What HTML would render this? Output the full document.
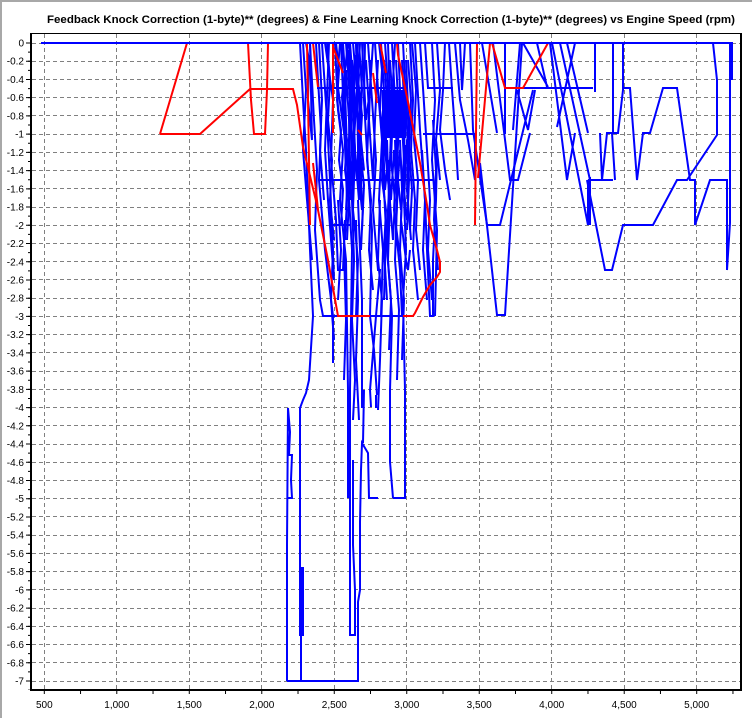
<!DOCTYPE html>
<html>
<head>
<meta charset="utf-8">
<style>
html,body{margin:0;padding:0;background:#fff;}
svg{display:block;}
text{font-family:"Liberation Sans",Arial,sans-serif;}
</style>
</head>
<body>
<svg width="752" height="718" viewBox="0 0 752 718" xmlns="http://www.w3.org/2000/svg">
<rect x="0" y="0" width="752" height="718" fill="#fff"/>
<rect x="0" y="0" width="752" height="2" fill="#a8a8a8"/>
<rect x="0" y="0" width="2" height="718" fill="#a8a8a8"/>

<text x="47" y="23" font-size="11" font-weight="bold" fill="#000" textLength="688" lengthAdjust="spacingAndGlyphs">Feedback Knock Correction (1-byte)** (degrees) &amp; Fine Learning Knock Correction (1-byte)** (degrees) vs Engine Speed (rpm)</text>

<g stroke="#808080" stroke-width="1" stroke-dasharray="4 3" fill="none">
<path d="M32,61.5H741M32,79.5H741M32,97.5H741M32,115.5H741M32,134.5H741M32,152.5H741M32,170.5H741M32,188.5H741M32,207.5H741M32,225.5H741M32,243.5H741M32,261.5H741M32,279.5H741M32,298.5H741M32,316.5H741M32,334.5H741M32,352.5H741M32,371.5H741M32,389.5H741M32,407.5H741M32,425.5H741M32,444.5H741M32,462.5H741M32,480.5H741M32,498.5H741M32,516.5H741M32,535.5H741M32,553.5H741M32,571.5H741M32,589.5H741M32,608.5H741M32,626.5H741M32,644.5H741M32,662.5H741M32,681.5H741M32,43.5H741"/>
<path d="M44.5,34V689M116.5,34V689M189.5,34V689M261.5,34V689M334.5,34V689M406.5,34V689M479.5,34V689M551.5,34V689M624.5,34V689M696.5,34V689"/>
</g>

<rect x="30" y="33" width="712" height="1" fill="#000"/>
<rect x="740" y="33" width="2" height="658" fill="#000"/>
<rect x="30" y="33" width="2" height="658" fill="#000"/>
<rect x="30" y="689" width="712" height="2" fill="#000"/>
<line x1="28" y1="42.5" x2="28" y2="690" stroke="#000" stroke-width="4" stroke-dasharray="1 17.229"/>
<line x1="29" y1="42.5" x2="29" y2="690" stroke="#000" stroke-width="2" stroke-dasharray="1 8.1143"/>
<line x1="43.8" y1="692.5" x2="741" y2="692.5" stroke="#000" stroke-width="3" stroke-dasharray="1 35.245"/>

<g font-size="10" fill="#000" text-anchor="end">
<text x="24" y="46.5">0</text>
<text x="24" y="64.7">-0.2</text>
<text x="24" y="83">-0.4</text>
<text x="24" y="101.2">-0.6</text>
<text x="24" y="119.4">-0.8</text>
<text x="24" y="137.6">-1</text>
<text x="24" y="155.9">-1.2</text>
<text x="24" y="174.1">-1.4</text>
<text x="24" y="192.3">-1.6</text>
<text x="24" y="210.6">-1.8</text>
<text x="24" y="228.8">-2</text>
<text x="24" y="247">-2.2</text>
<text x="24" y="265.3">-2.4</text>
<text x="24" y="283.5">-2.6</text>
<text x="24" y="301.7">-2.8</text>
<text x="24" y="319.9">-3</text>
<text x="24" y="338.2">-3.2</text>
<text x="24" y="356.4">-3.4</text>
<text x="24" y="374.6">-3.6</text>
<text x="24" y="392.9">-3.8</text>
<text x="24" y="411.1">-4</text>
<text x="24" y="429.3">-4.2</text>
<text x="24" y="447.5">-4.4</text>
<text x="24" y="465.8">-4.6</text>
<text x="24" y="484">-4.8</text>
<text x="24" y="502.2">-5</text>
<text x="24" y="520.5">-5.2</text>
<text x="24" y="538.7">-5.4</text>
<text x="24" y="556.9">-5.6</text>
<text x="24" y="575.1">-5.8</text>
<text x="24" y="593.4">-6</text>
<text x="24" y="611.6">-6.2</text>
<text x="24" y="629.8">-6.4</text>
<text x="24" y="648.1">-6.6</text>
<text x="24" y="666.3">-6.8</text>
<text x="24" y="684.5">-7</text>
</g>
<g font-size="10" fill="#000" text-anchor="middle">
<text x="44.3" y="708">500</text>
<text x="116.8" y="708">1,000</text>
<text x="189.3" y="708">1,500</text>
<text x="261.8" y="708">2,000</text>
<text x="334.3" y="708">2,500</text>
<text x="406.8" y="708">3,000</text>
<text x="479.2" y="708">3,500</text>
<text x="551.7" y="708">4,000</text>
<text x="624.2" y="708">4,500</text>
<text x="696.7" y="708">5,000</text>
</g>

<g stroke="#0000ff" stroke-width="2" fill="none" stroke-linejoin="miter">
<rect x="382" y="90" width="24" height="48" fill="#0000ff" stroke="none"/>
<path d="M287,681V545L288,408L290,432L289,455L292,455L291,480L292,498L287,498"/>
<path d="M287,681H358V602L360,590V522L361,470L362,443L368,453L369,498H378"/>
<path d="M301,681V568H303V635H300V408L303,400L306,393L309,380L313,316L310,250L306,150L303,100L300,43"/>
<path d="M348,390V498M350,390V635H355V590L353,545V460M362,390V408M364,390L363,443M370,390L371,407M376,395V408M393,498H405V390M390,390V462L393,498"/>
<path d="M303,43L306,90L303,150L307,200L312,260"/>
<path d="M310,43L314,120L317,170L315,230L320,300L323,316H338"/>
<path d="M316,43L318,80L321,130L319,180L325,250L333,316V363"/>
<path d="M306,43L309,60L308,100L312,140L310,43"/>
<path d="M322,43L327,120L330,180L334,280L328,200L325,150L329,43"/>
<path d="M335,43L338,110L343,150L340,200L346,260L348,390"/>
<path d="M325,43L333,100L331,160L336,220L338,270L343,270L345,220"/>
<path d="M340,43L337,80L345,140L342,97L348,43"/>
<path d="M346,43L350,100L348,180L352,250L350,390"/>
<path d="M350,43L352,70L355,150L353,210L358,260L356,316"/>
<path d="M353,43L357,90L354,140L359,200L356,43"/>
<path d="M357,43L360,120L358,170L362,210L360,140L363,43"/>
<path d="M344,60L347,150L351,200L349,120L346,70"/>
<path d="M355,60L353,120L357,180L360,100"/>
<path d="M358,200L362,300L362,390"/>
<path d="M341,43L344,120L347,200L345,240"/>
<path d="M348,50L351,90L349,150L353,190L351,120L355,55"/>
<path d="M343,43L346,90L344,130L348,170L346,210"/>
<path d="M349,43L352,80L350,120L354,160L352,200"/>
<path d="M352,60L355,100L353,140L357,180"/>
<path d="M359,43L362,90L360,130L364,170"/>
<path d="M362,43L366,120L370,90L373,43"/>
<path d="M365,43L364,100L368,170L372,230L370,316L374,350L377,395"/>
<path d="M368,43L372,100L376,160L373,210L378,270L380,270L376,316L370,390"/>
<path d="M375,43L378,90L382,140L379,200L383,250L381,316"/>
<path d="M371,60L369,120L373,180L375,120L378,60"/>
<path d="M385,43L388,88L386,140L390,200L388,260L392,316L390,390"/>
<path d="M405,390L403,300L406,250L404,200L407,140"/>
<path d="M392,43L395,100L398,180L396,230L400,270L402,316"/>
<path d="M398,43L400,90L404,160L401,220L406,260L408,270L410,250"/>
<path d="M403,43L406,100L409,180L407,230"/>
<path d="M381,43L384,90L382,150L386,230L384,300"/>
<path d="M395,43L393,80L397,150L394,210L399,250"/>
<path d="M388,43L391,130L389,190L393,240"/>
<path d="M384,60L387,100L385,150L389,190L387,230"/>
<path d="M390,60L393,110L391,160L395,200L393,240"/>
<path d="M396,60L399,120L397,170L401,210"/>
<path d="M402,60L405,120L403,180L407,220"/>
<path d="M406,60L409,130L407,190L411,240"/>
<path d="M383,140L385,190L388,160L391,200L394,150L397,195L400,150L403,190L406,145"/>
<path d="M336,43L339,70L337,100L341,130L339,160L343,190L341,225"/>
<path d="M342,43L345,75L343,110L347,140L345,170L349,200L347,240"/>
<path d="M356,43L359,75L357,110L361,140L359,175L363,205L361,250"/>
<path d="M360,43L358,80L362,115L360,150L364,185L362,230"/>
<path d="M379,43L382,70L380,110L384,140L382,180L386,210L384,250L387,300"/>
<path d="M327,43L330,80L328,120L332,160L330,200L334,240"/>
<path d="M319,43L322,100L320,150L324,200"/>
<path d="M387,140L389,200L387,250L391,300L389,350"/>
<path d="M395,140L397,200L395,260L399,310L397,380"/>
<path d="M400,140L402,190L400,250L404,300L402,360"/>
<path d="M408,60L411,100L409,150L412,190L410,230"/>
<path d="M412,43L416,90L414,140L418,180L416,230L420,270"/>
<path d="M366,60L369,110L367,160L371,200L369,250L373,290"/>
<path d="M352,200L354,260L352,320L355,380L353,420"/>
<path d="M356,220L358,300L356,360L359,420"/>
<path d="M344,250L346,320L344,380"/>
<path d="M380,200L378,260L382,300L380,360L378,410"/>
<path d="M330,200L333,250L331,300L334,340"/>
<path d="M338,200L341,250L338,300"/>
<path d="M422,150L425,200L423,250L427,300"/>
<path d="M433,120L436,170L434,220L438,270"/>
<path d="M410,43L413,100L411,150L415,200L413,250L418,300"/>
<path d="M415,43L420,130L425,200L427,250L430,316H433V260L436,200L437,150"/>
<path d="M420,43L423,88L427,150L430,200L428,250L432,300"/>
<path d="M425,43L428,88H453"/>
<path d="M432,43L435,100L432,160L437,230L435,316"/>
<path d="M437,43L440,90L436,140L440,180"/>
<path d="M445,43L443,90L440,130L445,170L450,200"/>
<path d="M317,88H407M320,180H433M332,225H350M370,316H403M423,134H473"/>
<path d="M449,43L452,90L455,130L458,180"/>
<path d="M460,43L462,90L464,60L465,43"/>
<path d="M455,43L460,100L468,140L475,180"/>
<path d="M470,43L473,130L487,225H500L533,90"/>
<path d="M480,163L497,315H505L522,43"/>
<path d="M475,133V180M505,43V134"/>
<path d="M482,43L497,133M493,43L510,180H518L530,133M520,43L513,130M517,90L528,130L535,90M523,43L548,87M537,43L547,87"/>
<path d="M550,43L567,180L575,133M552,43L588,225M560,43L590,180M575,43L557,127M567,43L578,90L588,133"/>
<path d="M505,88H593M595,43V92M588,180V225M588,180H613M590,177V225"/>
<path d="M600,133L602,180L607,133H612L615,180"/>
<path d="M613,43V133H618L623,90V43"/>
<path d="M587,180L605,270H612L623,225H653L677,180H687L717,135V80L713,43"/>
<path d="M623,88H630L637,180L643,133H650L663,88H677L690,180H695V225L710,180H727V270"/>
<path d="M730,43V223L727,270M732,43V80"/>
</g>

<g stroke="#ff0000" stroke-width="2" fill="none">
<path d="M160,134L187,43"/>
<path d="M160,134H200L250,89H293L297,105L303,147L317,205L328,260L338,316H370"/>
<path d="M403,316H413L415,313L423,297L430,285L437,277L440,272V262L437,250L430,225L427,205L420,163L407,97L398,55L397,43"/>
<path d="M248,43L251,100L254,134H265L267,90L268,43"/>
<path d="M477,43L475,225"/>
<path d="M478,178L490,43H492L505,88H523L548,43"/>
<path d="M307,43L308,100L309,160L310,225"/>
<path d="M313,43L316,70L318,87M313,163L316,190L318,210"/>
<path d="M333,43V133M333,47L343,73M358,130L362,135M373,73L377,103M380,43L386,73"/>
</g>
<path d="M41,43H733" stroke="#0000ff" stroke-width="2"/>
</svg>
</body>
</html>
